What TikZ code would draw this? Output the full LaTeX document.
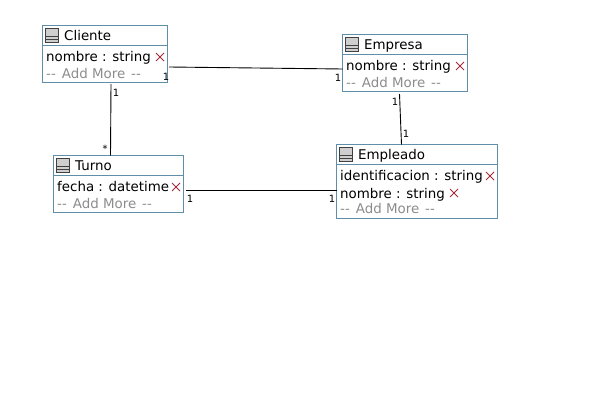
\documentclass[tikz,border=0pt]{standalone}
\usepackage{fontspec}
\setmainfont{DejaVu Sans}
\usepackage{xcolor}
\usetikzlibrary{calc}

\definecolor{boxline}{HTML}{5F8EA8}
\definecolor{crossred}{HTML}{A52A3C}
\definecolor{iconfill}{HTML}{CFCFCF}
\definecolor{addgray}{HTML}{8C8C8C}

\newcommand{\addmore}{-{}-\hspace{1.7pt} Add More \hspace{1.7pt}-{}-}

\tikzset{
    classbox/.style={draw=boxline, line width=1pt, inner sep=0pt, outer sep=0pt, anchor=north west},
    classtext/.style={anchor=base west, inner sep=0pt, font=\fontsize{13.4}{15}\selectfont},
    addtext/.style={classtext, text=addgray},
    multtext/.style={anchor=center, inner sep=0pt, font=\fontsize{10}{12}\selectfont},
    assoc/.style={black, line width=0.9pt},
    tableicon/.pic={
        \draw[fill=iconfill, draw=black!75, line width=0.9pt] (0,0) rectangle (12.5,13.5);
        \draw[black!75, line width=0.9pt] (0,7.5) -- (12.5,7.5) (0,10.5) -- (12.5,10.5);
    },
    delcross/.pic={
        \draw[crossred, line width=1pt] (0,0) -- (8,8) (0,8) -- (8,0);
    }
}

\begin{document}
\begin{tikzpicture}[x=1pt, y=-1pt]
    \useasboundingbox (0,0) rectangle (608,401);

    % class boxes
    \node[classbox, minimum width=125pt, minimum height=57pt] (cliente) at (42.5,25.5) {};
    \node[classbox, minimum width=125pt, minimum height=57pt] (empresa) at (342.5,34.5) {};
    \node[classbox, minimum width=130pt, minimum height=57pt] (turno) at (53.5,155.5) {};
    \node[classbox, minimum width=161pt, minimum height=74pt] (empleado) at (336.5,144.5) {};

    % header lines
    \draw[boxline, line width=1pt] (42.5,45.5) -- (167.5,45.5);
    \draw[boxline, line width=1pt] (342.5,54.5) -- (467.5,54.5);
    \draw[boxline, line width=1pt] (53.5,175.5) -- (183.5,175.5);
    \draw[boxline, line width=1pt] (336.5,164.5) -- (497.5,164.5);

    % icons
    \pic at (45.5,28.5) {tableicon};
    \pic at (345.5,37.5) {tableicon};
    \pic at (56.5,158.5) {tableicon};
    \pic at (339.5,147.5) {tableicon};

    % Cliente
    \node[classtext] (clientename) at (64,41) {Cliente};
    \node[classtext] (clienteattr) at (46,62) {nombre : string};
    \node[addtext] (clienteadd) at (46,79) {\addmore};
    \pic at (156,53) {delcross};

    % Empresa
    \node[classtext] (empresaname) at (364,50) {Empresa};
    \node[classtext] (empresaattr) at (346,71) {nombre : string};
    \node[addtext] (empresaadd) at (346,88) {\addmore};
    \pic at (456,62) {delcross};

    % Turno
    \node[classtext] (turnoname) at (75,171) {Turno};
    \node[classtext] (turnoattr) at (57,192) {fecha : datetime};
    \node[addtext] (turnoadd) at (57,208) {\addmore};
    \pic at (172,183) {delcross};

    % Empleado
    \node[classtext] (empleadoname) at (358,160) {Empleado};
    \node[classtext] (empleadoattr) at (340,181) {identificacion : string};
    \node[classtext] (empleadonom) at (340,198) {nombre : string};
    \node[addtext] (empleadoadd) at (340,214) {\addmore};
    \pic at (486,172) {delcross};
    \pic at (450,189) {delcross};

    % associations
    \draw[assoc] ([xshift=1.5pt, yshift=-13pt]cliente.east) -- ([yshift=-6pt]empresa.west);
    \draw[assoc] ([xshift=6pt, yshift=-1.5pt]cliente.south) -- ([xshift=-8pt]turno.north);
    \draw[assoc] ([xshift=-5.5pt, yshift=-2.5pt]empresa.south) -- ([xshift=-15.5pt]empleado.north);
    \draw[assoc] ([xshift=2pt, yshift=-6pt]turno.east) -- ([yshift=-8.5pt]empleado.west);

    % multiplicities
    \node[multtext] (m1) at (166,77) {1};
    \node[multtext] (m2) at (338,78) {1};
    \node[multtext] (m3) at (116,93) {1};
    \node[multtext] (m4) at (105,149) {*};
    \node[multtext] (m5) at (395,102) {1};
    \node[multtext] (m6) at (406,134) {1};
    \node[multtext] (m7) at (190,199) {1};
    \node[multtext] (m8) at (332,199) {1};
\end{tikzpicture}
\end{document}
